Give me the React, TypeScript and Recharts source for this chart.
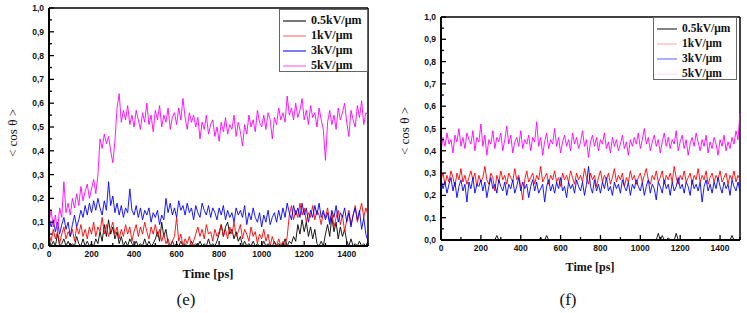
import React from 'react';
import { LineChart, Line, XAxis, YAxis, Legend, ReferenceLine } from 'recharts';

// ---------- data ----------
const times = [
  0, 10, 20, 30, 40, 50, 60, 70, 80, 90,
  100, 110, 120, 130, 140, 150, 160, 170, 180, 190,
  200, 210, 220, 230, 240, 250, 260, 270, 280, 290,
  300, 310, 320, 330, 340, 350, 360, 370, 380, 390,
  400, 410, 420, 430, 440, 450, 460, 470, 480, 490,
  500, 510, 520, 530, 540, 550, 560, 570, 580, 590,
  600, 610, 620, 630, 640, 650, 660, 670, 680, 690,
  700, 710, 720, 730, 740, 750, 760, 770, 780, 790,
  800, 810, 820, 830, 840, 850, 860, 870, 880, 890,
  900, 910, 920, 930, 940, 950, 960, 970, 980, 990,
  1000, 1010, 1020, 1030, 1040, 1050, 1060, 1070, 1080, 1090,
  1100, 1110, 1120, 1130, 1140, 1150, 1160, 1170, 1180, 1190,
  1200, 1210, 1220, 1230, 1240, 1250, 1260, 1270, 1280, 1290,
  1300, 1310, 1320, 1330, 1340, 1350, 1360, 1370, 1380, 1390,
  1400, 1410, 1420, 1430, 1440, 1450, 1460, 1470, 1480, 1490,
  1500,
];

const seriesNames = ['0.5kV/\u03bcm', '1kV/\u03bcm', '3kV/\u03bcm', '5kV/\u03bcm'];

// panel (e)
const e05 = [
  0.03, 0.00, 0.02, 0.00, 0.05, 0.00, 0.01, 0.03, 0.00, 0.02,
  0.00, 0.01, 0.00, 0.04, 0.01, 0.00, 0.03, 0.00, 0.02, 0.00,
  0.01, 0.00, 0.03, 0.01, 0.06, 0.02, 0.09, 0.04, 0.11, 0.05,
  0.08, 0.03, 0.06, 0.01, 0.04, 0.00, 0.02, 0.00, 0.03, 0.01,
  0.00, 0.02, 0.00, 0.01, 0.00, 0.03, 0.00, 0.02, 0.00, 0.01,
  0.03, 0.06, 0.02, 0.10, 0.04, 0.07, 0.01, 0.00, 0.02, 0.00,
  0.01, 0.00, 0.02, 0.00, 0.01, 0.00, 0.00, 0.02, 0.00, 0.01,
  0.00, 0.02, 0.00, 0.01, 0.00, 0.03, 0.00, 0.01, 0.00, 0.02,
  0.05, 0.09, 0.04, 0.08, 0.10, 0.05, 0.07, 0.03, 0.06, 0.02,
  0.04, 0.00, 0.02, 0.00, 0.01, 0.00, 0.02, 0.00, 0.01, 0.00,
  0.00, 0.02, 0.00, 0.01, 0.00, 0.00, 0.02, 0.00, 0.01, 0.00,
  0.00, 0.03, 0.00, 0.02, 0.01, 0.04, 0.02, 0.09, 0.05, 0.11,
  0.06, 0.10, 0.04, 0.08, 0.03, 0.07, 0.01, 0.00, 0.02, 0.00,
  0.05, 0.09, 0.04, 0.12, 0.06, 0.10, 0.03, 0.08, 0.04, 0.07,
  0.02, 0.00, 0.03, 0.00, 0.01, 0.00, 0.02, 0.00, 0.01, 0.00,
  0.02,
];
const e1 = [
  0.05, 0.02, 0.07, 0.03, 0.06, 0.01, 0.05, 0.08, 0.03, 0.06,
  0.04, 0.07, 0.02, 0.08, 0.05, 0.09, 0.04, 0.07, 0.03, 0.08,
  0.05, 0.10, 0.04, 0.08, 0.06, 0.12, 0.05, 0.09, 0.04, 0.07,
  0.10, 0.05, 0.08, 0.03, 0.07, 0.04, 0.09, 0.05, 0.08, 0.02,
  0.06, 0.09, 0.04, 0.08, 0.05, 0.10, 0.06, 0.03, 0.08, 0.05,
  0.09, 0.04, 0.07, 0.02, 0.05, 0.01, 0.03, 0.00, 0.02, 0.04,
  0.12, 0.02, 0.05, 0.00, 0.03, 0.01, 0.04, 0.00, 0.02, 0.05,
  0.08, 0.04, 0.07, 0.03, 0.09, 0.05, 0.06, 0.02, 0.07, 0.04,
  0.06, 0.09, 0.04, 0.07, 0.03, 0.08, 0.05, 0.10, 0.04, 0.06,
  0.09, 0.03, 0.07, 0.05, 0.02, 0.08, 0.04, 0.06, 0.01, 0.05,
  0.03, 0.07, 0.02, 0.05, 0.00, 0.04, 0.01, 0.00, 0.03, 0.00,
  0.02, 0.00, 0.04, 0.13, 0.17, 0.11, 0.15, 0.12, 0.18, 0.13,
  0.16, 0.10, 0.14, 0.12, 0.17, 0.11, 0.15, 0.13, 0.09, 0.14,
  0.12, 0.16, 0.10, 0.14, 0.08, 0.12, 0.15, 0.09, 0.13, 0.06,
  0.11, 0.15, 0.09, 0.13, 0.17, 0.10, 0.14, 0.18, 0.12, 0.16,
  0.13,
];
const e3 = [
  0.12, 0.08, 0.11, 0.06, 0.10, 0.05, 0.09, 0.12, 0.07, 0.10,
  0.04, 0.09, 0.13, 0.08, 0.11, 0.15, 0.12, 0.17, 0.13, 0.18,
  0.14, 0.19, 0.15, 0.20, 0.16, 0.13, 0.19, 0.15, 0.27, 0.17,
  0.21, 0.14, 0.18, 0.13, 0.17, 0.12, 0.16, 0.14, 0.24, 0.15,
  0.13, 0.17, 0.12, 0.16, 0.11, 0.15, 0.13, 0.16, 0.10, 0.14,
  0.12, 0.15, 0.09, 0.13, 0.11, 0.20, 0.14, 0.18, 0.13, 0.16,
  0.12, 0.19, 0.15, 0.17, 0.13, 0.18, 0.14, 0.16, 0.11, 0.17,
  0.14, 0.12, 0.18, 0.15, 0.13, 0.17, 0.12, 0.16, 0.14, 0.11,
  0.16, 0.13, 0.17, 0.11, 0.15, 0.12, 0.14, 0.10, 0.16, 0.13,
  0.15, 0.12, 0.17, 0.09, 0.14, 0.11, 0.16, 0.12, 0.10, 0.14,
  0.08, 0.13, 0.10, 0.15, 0.09, 0.12, 0.14, 0.10, 0.15, 0.11,
  0.16, 0.12, 0.18, 0.14, 0.11, 0.17, 0.13, 0.16, 0.12, 0.18,
  0.13, 0.16, 0.10, 0.15, 0.12, 0.17, 0.13, 0.18, 0.12, 0.15,
  0.11, 0.14, 0.09, 0.15, 0.12, 0.17, 0.10, 0.14, 0.12, 0.16,
  0.10, 0.14, 0.08, 0.13, 0.16, 0.11, 0.15, 0.07, 0.12, 0.05,
  0.02,
];
const e5 = [
  0.10, 0.15, 0.08, 0.13, 0.06, 0.16, 0.12, 0.27, 0.14, 0.18,
  0.13, 0.20, 0.16, 0.22, 0.17, 0.25, 0.19, 0.23, 0.26, 0.20,
  0.24, 0.28, 0.22, 0.30, 0.45, 0.41, 0.47, 0.43, 0.46, 0.40,
  0.35, 0.44, 0.58, 0.64, 0.52, 0.57, 0.53, 0.59, 0.51, 0.55,
  0.50, 0.57, 0.53, 0.49, 0.56, 0.52, 0.60, 0.51, 0.55, 0.48,
  0.57, 0.53, 0.59, 0.50, 0.55, 0.52, 0.58, 0.49, 0.54, 0.56,
  0.51, 0.58, 0.53, 0.62, 0.54, 0.49, 0.56, 0.52, 0.55, 0.50,
  0.54, 0.45, 0.52, 0.49, 0.55, 0.47, 0.51, 0.53, 0.46, 0.50,
  0.44, 0.52, 0.48, 0.54, 0.47, 0.51, 0.49, 0.55, 0.46, 0.52,
  0.48, 0.42, 0.51, 0.47, 0.55, 0.50, 0.53, 0.48, 0.57, 0.52,
  0.50, 0.55, 0.49, 0.56, 0.53, 0.45, 0.54, 0.51, 0.58, 0.53,
  0.56, 0.52, 0.63, 0.55, 0.58, 0.53, 0.60, 0.54, 0.57, 0.62,
  0.53, 0.57, 0.51, 0.59, 0.54, 0.56, 0.50, 0.58, 0.53, 0.49,
  0.36, 0.52, 0.57, 0.51, 0.55, 0.49, 0.58, 0.53, 0.56, 0.60,
  0.52, 0.46, 0.57, 0.53, 0.50, 0.59, 0.54, 0.61, 0.51, 0.56,
  0.55,
];

// panel (f)
const f05 = [
  0.00, 0.00, 0.00, 0.00, 0.00, 0.00, 0.00, 0.00, 0.00, 0.00,
  0.00, 0.00, 0.00, 0.00, 0.00, 0.00, 0.00, 0.00, 0.00, 0.00,
  0.00, 0.00, 0.00, 0.00, 0.00, 0.00, 0.00, 0.00, 0.02, 0.00,
  0.00, 0.00, 0.00, 0.00, 0.00, 0.00, 0.00, 0.00, 0.00, 0.00,
  0.00, 0.00, 0.00, 0.00, 0.00, 0.00, 0.00, 0.00, 0.00, 0.00,
  0.01, 0.00, 0.00, 0.02, 0.00, 0.00, 0.00, 0.00, 0.00, 0.00,
  0.00, 0.00, 0.00, 0.00, 0.00, 0.00, 0.00, 0.00, 0.00, 0.00,
  0.00, 0.00, 0.00, 0.00, 0.00, 0.00, 0.00, 0.00, 0.00, 0.00,
  0.00, 0.00, 0.00, 0.00, 0.00, 0.00, 0.00, 0.00, 0.00, 0.00,
  0.00, 0.00, 0.00, 0.00, 0.00, 0.00, 0.00, 0.00, 0.00, 0.00,
  0.00, 0.00, 0.00, 0.00, 0.00, 0.00, 0.00, 0.00, 0.00, 0.03,
  0.00, 0.02, 0.00, 0.00, 0.01, 0.00, 0.00, 0.00, 0.03, 0.00,
  0.00, 0.00, 0.00, 0.00, 0.00, 0.00, 0.00, 0.00, 0.00, 0.00,
  0.00, 0.00, 0.00, 0.00, 0.00, 0.00, 0.00, 0.00, 0.00, 0.00,
  0.00, 0.00, 0.00, 0.00, 0.00, 0.00, 0.02, 0.00, 0.00, 0.00,
  0.00,
];
const f1 = [
  0.27, 0.30, 0.25, 0.29, 0.26, 0.31, 0.28, 0.24, 0.30, 0.27,
  0.32, 0.26, 0.29, 0.25, 0.28, 0.31, 0.27, 0.30, 0.24, 0.29,
  0.26, 0.28, 0.33, 0.27, 0.25, 0.30, 0.28, 0.22, 0.29, 0.26,
  0.31, 0.27, 0.29, 0.25, 0.30, 0.28, 0.26, 0.32, 0.27, 0.29,
  0.24, 0.18, 0.27, 0.31, 0.26, 0.28, 0.30, 0.25, 0.29, 0.27,
  0.33, 0.26, 0.28, 0.30, 0.25, 0.29, 0.27, 0.31, 0.26, 0.28,
  0.24, 0.30, 0.27, 0.29, 0.26, 0.31, 0.28, 0.25, 0.30, 0.27,
  0.29, 0.26, 0.32, 0.28, 0.25, 0.30, 0.27, 0.29, 0.24, 0.28,
  0.31, 0.26, 0.29, 0.27, 0.30, 0.25, 0.28, 0.32, 0.26, 0.29,
  0.27, 0.30, 0.24, 0.28, 0.26, 0.31, 0.27, 0.29, 0.25, 0.28,
  0.30, 0.26, 0.29, 0.32, 0.27, 0.25, 0.29, 0.27, 0.31, 0.26,
  0.28, 0.31, 0.25, 0.29, 0.27, 0.30, 0.26, 0.33, 0.28, 0.25,
  0.29, 0.27, 0.31, 0.26, 0.28, 0.30, 0.25, 0.29, 0.27, 0.32,
  0.26, 0.29, 0.27, 0.31, 0.25, 0.28, 0.30, 0.26, 0.29, 0.27,
  0.31, 0.26, 0.28, 0.30, 0.25, 0.29, 0.27, 0.31, 0.26, 0.29,
  0.27,
];
const f3 = [
  0.27, 0.23, 0.26, 0.21, 0.25, 0.28, 0.22, 0.26, 0.19, 0.24,
  0.27, 0.22, 0.25, 0.17, 0.26, 0.23, 0.28, 0.21, 0.25, 0.24,
  0.27, 0.22, 0.26, 0.19, 0.24, 0.28, 0.23, 0.25, 0.21, 0.27,
  0.24, 0.22, 0.26, 0.20, 0.25, 0.23, 0.27, 0.21, 0.24, 0.28,
  0.22, 0.26, 0.23, 0.25, 0.19, 0.24, 0.27, 0.22, 0.26, 0.21,
  0.23, 0.25, 0.17, 0.24, 0.27, 0.22, 0.25, 0.21, 0.26, 0.23,
  0.28, 0.22, 0.24, 0.19, 0.26, 0.23, 0.25, 0.21, 0.27, 0.24,
  0.22, 0.26, 0.20, 0.25, 0.33, 0.24, 0.21, 0.27, 0.22, 0.25,
  0.21, 0.26, 0.23, 0.28, 0.22, 0.24, 0.20, 0.26, 0.23, 0.25,
  0.21, 0.27, 0.24, 0.22, 0.26, 0.20, 0.25, 0.23, 0.27, 0.24,
  0.22, 0.26, 0.20, 0.24, 0.27, 0.21, 0.25, 0.23, 0.18, 0.26,
  0.24, 0.21, 0.27, 0.23, 0.25, 0.20, 0.26, 0.22, 0.24, 0.28,
  0.23, 0.25, 0.21, 0.26, 0.24, 0.20, 0.27, 0.23, 0.25, 0.22,
  0.26, 0.17, 0.24, 0.27, 0.22, 0.25, 0.21, 0.26, 0.23, 0.28,
  0.24, 0.21, 0.26, 0.23, 0.25, 0.20, 0.27, 0.24, 0.22, 0.26,
  0.22,
];
const f5 = [
  0.40, 0.46, 0.42, 0.48, 0.43, 0.45, 0.39, 0.47, 0.44, 0.50,
  0.42, 0.46, 0.41, 0.48, 0.45, 0.43, 0.49, 0.40, 0.46, 0.44,
  0.52, 0.42, 0.47, 0.38, 0.45, 0.43, 0.49, 0.41, 0.46, 0.44,
  0.48, 0.40, 0.45, 0.51, 0.43, 0.47, 0.39, 0.44, 0.46, 0.42,
  0.49, 0.41, 0.45, 0.43, 0.47, 0.40, 0.46, 0.44, 0.53, 0.42,
  0.46, 0.38, 0.44, 0.48, 0.41, 0.45, 0.43, 0.50, 0.42, 0.46,
  0.39, 0.44, 0.47, 0.42, 0.45, 0.40, 0.48, 0.43, 0.46, 0.41,
  0.44, 0.49, 0.42, 0.45, 0.37, 0.44, 0.47, 0.42, 0.46, 0.40,
  0.45, 0.43, 0.48, 0.41, 0.44, 0.39, 0.46, 0.42, 0.45, 0.40,
  0.43, 0.47, 0.41, 0.44, 0.38, 0.45, 0.42, 0.46, 0.43, 0.48,
  0.41, 0.45, 0.50, 0.43, 0.46, 0.40, 0.44, 0.47, 0.42, 0.45,
  0.39, 0.44, 0.48, 0.42, 0.46, 0.41, 0.45, 0.43, 0.49, 0.40,
  0.44, 0.47, 0.41, 0.45, 0.38, 0.43, 0.46, 0.42, 0.48, 0.44,
  0.40, 0.45, 0.42, 0.47, 0.39, 0.44, 0.41, 0.46, 0.43, 0.38,
  0.45, 0.42, 0.47, 0.40, 0.44, 0.41, 0.46, 0.43, 0.49, 0.45,
  0.57,
];

const yTicks = [
  0, 0.05, 0.1, 0.15, 0.2, 0.25, 0.3, 0.35, 0.4, 0.45, 0.5,
  0.55, 0.6, 0.65, 0.7, 0.75, 0.8, 0.85, 0.9, 0.95, 1.0,
];
const xTicks = [0, 100, 200, 300, 400, 500, 600, 700, 800, 900, 1000, 1100, 1200, 1300, 1400, 1500];
const xLabelled = [0, 200, 400, 600, 800, 1000, 1200, 1400];

// ---------- styling ----------
const lineColors = ['#000000', '#ff0000', '#0000ff', '#ff00ff'];
const legendColorsE = ['#555555', '#ff9a9a', '#5a5aff', '#ff8cff'];
const legendColorsF = ['#666666', '#ffc8c8', '#9a9aff', '#fbe9fb'];

const TICK_MARGIN_Y = 5;
const TICK_MARGIN_X = 7;
const sans = '"Liberation Sans", Arial, sans-serif';
const serif = '"Liberation Serif", "Times New Roman", serif';

function buildRows(a: number[], b: number[], c: number[], d: number[]) {
  return times.map((t, i) => ({ t, s0: a[i], s1: b[i], s2: c[i], s3: d[i] }));
}
const rowsE = buildRows(e05, e1, e3, e5);
const rowsF = buildRows(f05, f1, f3, f5);

const makeYTick = (fs: number) => (props: any) => {
  const { x, y, payload } = props;
  const v = payload.value as number;
  const major = Math.round(v * 100) % 10 === 0;
  const ax = x + TICK_MARGIN_Y;
  return (
    <g>
      <line x1={ax} x2={ax + (major ? 5 : 3)} y1={y} y2={y} stroke="#000" strokeWidth={1.3} />
      {major && (
        <text x={x} y={y} dy={3} textAnchor="end" fontSize={fs} fontWeight="bold" fontFamily={sans} fill="#111">
          {v.toFixed(1).replace('.', ',')}
        </text>
      )}
    </g>
  );
};

const makeXTick = (fs: number) => (props: any) => {
  const { x, y, payload } = props;
  const v = payload.value as number;
  const major = xLabelled.indexOf(v) >= 0;
  const ay = y - TICK_MARGIN_X;
  return (
    <g>
      <line x1={x} x2={x} y1={ay} y2={ay - (major ? 5 : 3)} stroke="#000" strokeWidth={1.3} />
      {major && (
        <text x={x} y={y} dy={4} textAnchor="middle" fontSize={fs} fontWeight="bold" fontFamily={sans} fill="#111">
          {v}
        </text>
      )}
    </g>
  );
};

const makeLegend = (colors: string[], w: number, h: number, lineLen: number, fs: number) => () => (
  <div
    style={{
      width: w,
      height: h,
      border: '1px solid #666',
      background: '#fff',
      boxSizing: 'border-box',
      paddingTop: 3,
    }}
  >
    {seriesNames.map((n, i) => (
      <div key={n} style={{ display: 'flex', alignItems: 'center', height: 15, marginLeft: 3 }}>
        <svg width={lineLen} height={4} style={{ marginRight: 5, display: 'block' }}>
          <line x1={0} x2={lineLen} y1={2} y2={2} stroke={colors[i]} strokeWidth={1.6} />
        </svg>
        <span style={{ fontFamily: serif, fontWeight: 'bold', fontSize: fs, color: '#111', lineHeight: '15px' }}>{n}</span>
      </div>
    ))}
  </div>
);

type PanelProps = {
  rows: any[];
  width: number;
  margin: { top: number; right: number; left: number; bottom: number };
  legendLeft: number;
  legendTop: number;
  legend: () => React.ReactElement;
  yfs: number;
  xfs: number;
};

function Panel({ rows, width, margin, legendLeft, legendTop, legend, yfs, xfs }: PanelProps) {
  return (
    <LineChart width={width} height={313} data={rows} margin={margin}>
      <XAxis
        dataKey="t"
        type="number"
        domain={[0, 1500]}
        ticks={xTicks}
        interval={0}
        height={30}
        tickSize={0}
        tickMargin={TICK_MARGIN_X}
        tick={makeXTick(xfs)}
        axisLine={{ stroke: '#000', strokeWidth: 2 }}
        tickLine={false}
      />
      <YAxis
        type="number"
        domain={[0, 1]}
        ticks={yTicks}
        interval={0}
        width={40}
        tickSize={0}
        tickMargin={TICK_MARGIN_Y}
        tick={makeYTick(yfs)}
        axisLine={{ stroke: '#000', strokeWidth: 2 }}
        tickLine={false}
      />
      <ReferenceLine y={1} stroke="#000" strokeWidth={1.5} ifOverflow="visible" />
      <ReferenceLine x={1500} stroke="#000" strokeWidth={1.5} ifOverflow="visible" />
      {['s0', 's1', 's2', 's3'].map((k, i) => (
        <Line
          key={k}
          dataKey={k}
          name={seriesNames[i]}
          stroke={lineColors[i]}
          strokeWidth={0.9}
          dot={false}
          activeDot={false}
          isAnimationActive={false}
          type="linear"
        />
      ))}
      <Legend
        layout="vertical"
        align="center"
        verticalAlign="middle"
        content={legend}
        wrapperStyle={{ position: 'absolute', left: legendLeft, top: legendTop, width: 'auto', margin: 0 }}
      />
    </LineChart>
  );
}

const abs = (s: React.CSSProperties): React.CSSProperties => ({ position: 'absolute', ...s });

export default function App() {
  return (
    <div style={{ position: 'absolute', left: 0, top: 0, width: 747, height: 313, background: '#fff', overflow: 'hidden' }}>
      <div style={abs({ left: 0, top: 0 })}>
        <Panel
          rows={rowsE}
          width={375}
          margin={{ top: 8, right: 7, left: 9, bottom: 37 }}
          legendLeft={279}
          legendTop={9}
          legend={makeLegend(legendColorsE, 89, 63, 23, 12)}
          yfs={8.5}
          xfs={8.5}
        />
      </div>
      <div style={abs({ left: 375, top: 0 })}>
        <Panel
          rows={rowsF}
          width={372}
          margin={{ top: 17, right: 7, left: 26, bottom: 43 }}
          legendLeft={278}
          legendTop={17}
          legend={makeLegend(legendColorsF, 84, 63, 20, 11.5)}
          yfs={8.5}
          xfs={8.5}
        />
      </div>

      {/* axis titles */}
      <div style={abs({ left: 13, top: 133, transform: 'translate(-50%, -50%) rotate(-90deg)', fontFamily: serif, fontSize: 13, whiteSpace: 'nowrap', color: '#111' })}>
        {'< cos \u03b8 >'}
      </div>
      <div style={abs({ left: 405, top: 131, transform: 'translate(-50%, -50%) rotate(-90deg)', fontFamily: serif, fontSize: 13, whiteSpace: 'nowrap', color: '#111' })}>
        {'< cos \u03b8 >'}
      </div>
      <div style={abs({ left: 208, top: 274, transform: 'translate(-50%, -50%)', fontFamily: serif, fontWeight: 'bold', fontSize: 12.5, whiteSpace: 'nowrap', color: '#111' })}>
        Time [ps]
      </div>
      <div style={abs({ left: 590, top: 267, transform: 'translate(-50%, -50%)', fontFamily: serif, fontWeight: 'bold', fontSize: 12, whiteSpace: 'nowrap', color: '#111' })}>
        Time [ps]
      </div>
      <div style={abs({ left: 186, top: 300, transform: 'translate(-50%, -50%)', fontFamily: serif, fontSize: 17, whiteSpace: 'nowrap', color: '#111' })}>
        (e)
      </div>
      <div style={abs({ left: 568, top: 300, transform: 'translate(-50%, -50%)', fontFamily: serif, fontSize: 17, whiteSpace: 'nowrap', color: '#111' })}>
        (f)
      </div>
    </div>
  );
}
